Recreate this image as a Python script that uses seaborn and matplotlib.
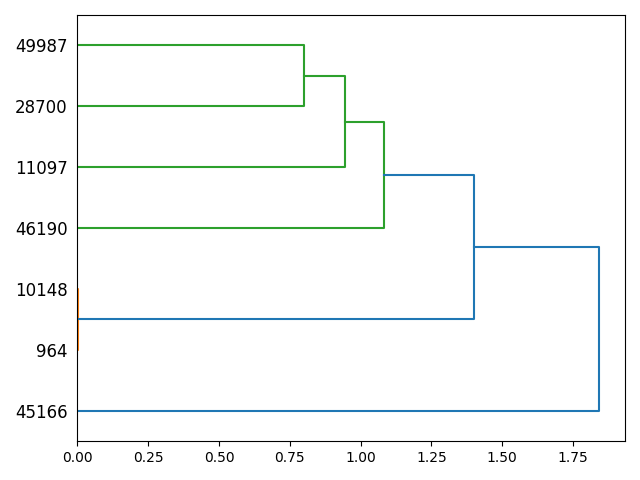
import pandas as pd
import matplotlib
matplotlib.use("Agg")
import matplotlib.pyplot as plt
import seaborn as sns

# leaves, bottom to top
leaf_labels = ['45166', '964', '10148', '46190', '11097', '28700', '49987']

# merges (scipy-style linkage, children in display order)
merge_a = ['964', '28700', '11097', '46190', 'c0', '45166']
merge_b = ['10148', '49987', 'c1', 'c2', 'c3', 'c4']
merge_heights = [0.002, 0.801, 0.946, 1.083, 1.401, 1.842]
merge_colors = ['C1', 'C2', 'C2', 'C2', 'C0', 'C0']


def build_segments():
    pos = {lab: (5 + 10 * i, 0.0) for i, lab in enumerate(leaf_labels)}
    rows = []
    for k, (a, b) in enumerate(zip(merge_a, merge_b)):
        h = merge_heights[k]
        ya, ha = pos[a]
        yb, hb = pos[b]
        for x, y in [(ha, ya), (h, ya), (h, yb), (hb, yb)]:
            rows.append({'seg': k, 'x': x, 'y': y, 'color': merge_colors[k]})
        pos['c%d' % k] = ((ya + yb) / 2, h)
    return pd.DataFrame(rows)


def main():
    df = build_segments()
    fig, ax = plt.subplots(figsize=(6.4, 4.8), dpi=100)
    for k, seg in df.groupby('seg'):
        sns.lineplot(data=seg, x='x', y='y', sort=False, estimator=None,
                     color=seg['color'].iloc[0], linewidth=1.5, ax=ax)

    ax.set_ylim(0, 10 * len(leaf_labels))
    ax.set_xlim(0, max(merge_heights) * 1.05)
    ax.set_yticks([5 + 10 * i for i in range(len(leaf_labels))])
    ax.set_yticklabels(leaf_labels, fontsize=12)
    for line in ax.get_yticklines():
        line.set_visible(False)
    ax.set_xlabel('')
    ax.set_ylabel('')
    plt.tight_layout()
    plt.savefig('out.png')


if __name__ == "__main__":
    main()
